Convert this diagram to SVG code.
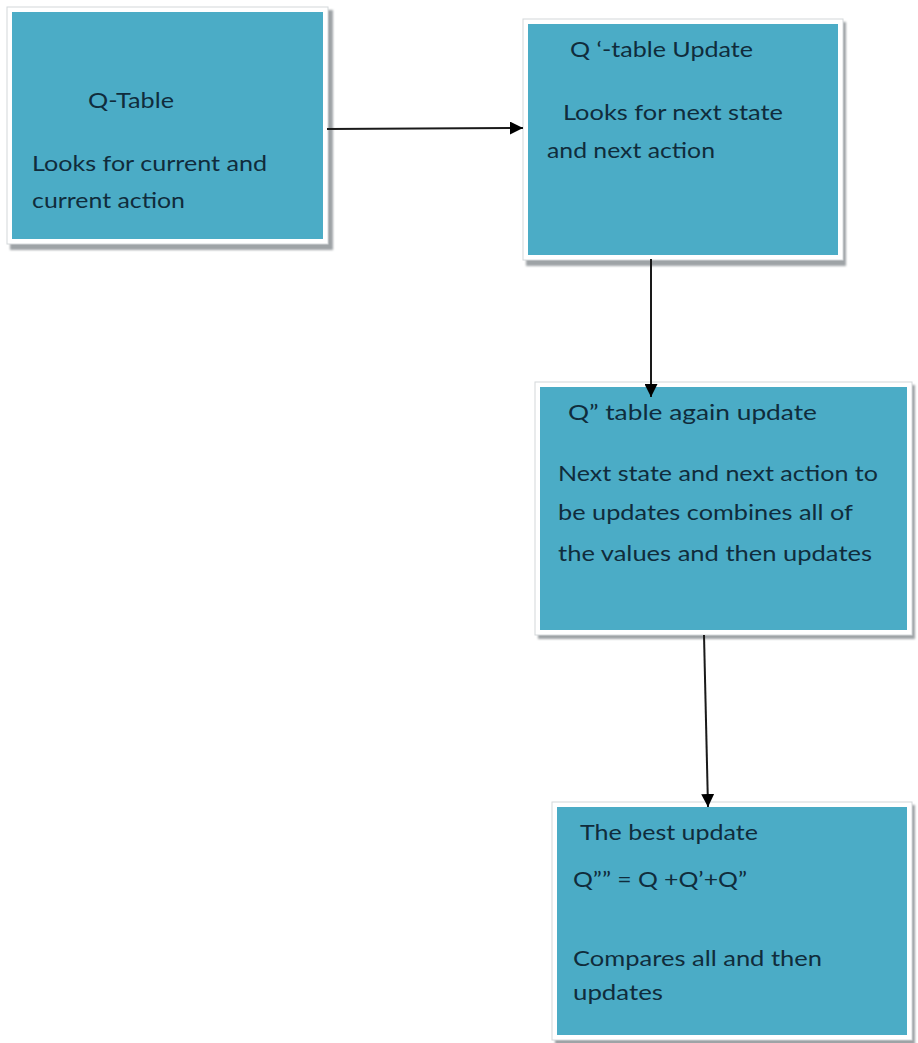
<svg xmlns="http://www.w3.org/2000/svg" width="918" height="1043" viewBox="0 0 918 1043">
<defs>
<style>
.shadow{fill:#9ea3a6;filter:url(#blur)}
.frame{fill:#ffffff;stroke:#d4d8da;stroke-width:1}
.box{fill:#4BACC6}
.t{font-family:Lato,"Open Sans","Liberation Sans",sans-serif;font-size:21.5px;fill:#102c3c}
.edge{stroke:#1a1a1a;stroke-width:2;fill:none}
</style>
<filter id="blur" x="-5%" y="-5%" width="110%" height="110%">
<feGaussianBlur stdDeviation="1"/>
</filter>
<marker id="ah" viewBox="0 0 10 10" refX="10" refY="5" markerWidth="6.5" markerHeight="6.5" markerUnits="strokeWidth" orient="auto">
<path d="M0,0 L10,5 L0,10 z" fill="#000"/>
</marker>
</defs>
<rect width="918" height="1043" fill="#ffffff"/>

<g id="node-qtable">
<rect class="shadow" x="10" y="10" width="323" height="240"/>
<rect class="frame" x="7" y="7" width="321" height="237"/>
<rect class="box" x="12" y="12" width="311" height="227"/>
<text class="t" x="88" y="108" textLength="86" lengthAdjust="spacingAndGlyphs">Q-Table</text>
<text class="t" x="32" y="171" textLength="235" lengthAdjust="spacingAndGlyphs">Looks for  current and</text>
<text class="t" x="32" y="208" textLength="153" lengthAdjust="spacingAndGlyphs">current action</text>
</g>

<g id="node-qprime">
<rect class="shadow" x="526" y="22" width="320" height="244"/>
<rect class="frame" x="523" y="19" width="320" height="241"/>
<rect class="box" x="528" y="24" width="310" height="231"/>
<text class="t" x="570" y="57" textLength="183" lengthAdjust="spacingAndGlyphs">Q ‘-table Update</text>
<text class="t" x="563" y="120" textLength="220" lengthAdjust="spacingAndGlyphs">Looks  for next state</text>
<text class="t" x="547" y="158" textLength="168" lengthAdjust="spacingAndGlyphs">and next action</text>
</g>

<g id="node-qdouble">
<rect class="shadow" x="538" y="385" width="377" height="254"/>
<rect class="frame" x="535" y="382" width="377" height="253"/>
<rect class="box" x="540" y="387" width="367" height="243"/>
<text class="t" x="568" y="420" textLength="249" lengthAdjust="spacingAndGlyphs">Q”  table again update</text>
<text class="t" x="558" y="481" textLength="320" lengthAdjust="spacingAndGlyphs">Next state and next action to</text>
<text class="t" x="558" y="520" textLength="295" lengthAdjust="spacingAndGlyphs">be updates combines  all of</text>
<text class="t" x="558" y="561" textLength="314" lengthAdjust="spacingAndGlyphs">the values and then updates</text>
</g>

<g id="node-best">
<rect class="shadow" x="555" y="805" width="360" height="240"/>
<rect class="frame" x="552" y="802" width="360" height="238"/>
<rect class="box" x="557" y="807" width="350" height="228"/>
<text class="t" x="580" y="840" textLength="178" lengthAdjust="spacingAndGlyphs">The best update</text>
<text class="t" x="573" y="887" textLength="174" lengthAdjust="spacingAndGlyphs">Q”” = Q +Q’+Q”</text>
<text class="t" x="573" y="966" textLength="249" lengthAdjust="spacingAndGlyphs">Compares all and then</text>
<text class="t" x="573" y="1000" textLength="90" lengthAdjust="spacingAndGlyphs">updates</text>
</g>

<g id="connectors">
<line class="edge" x1="327" y1="129" x2="523" y2="128" marker-end="url(#ah)"/>
<line class="edge" x1="651" y1="259" x2="651" y2="397" marker-end="url(#ah)"/>
<line class="edge" x1="704" y1="635" x2="708" y2="807" marker-end="url(#ah)"/>
</g>
</svg>
